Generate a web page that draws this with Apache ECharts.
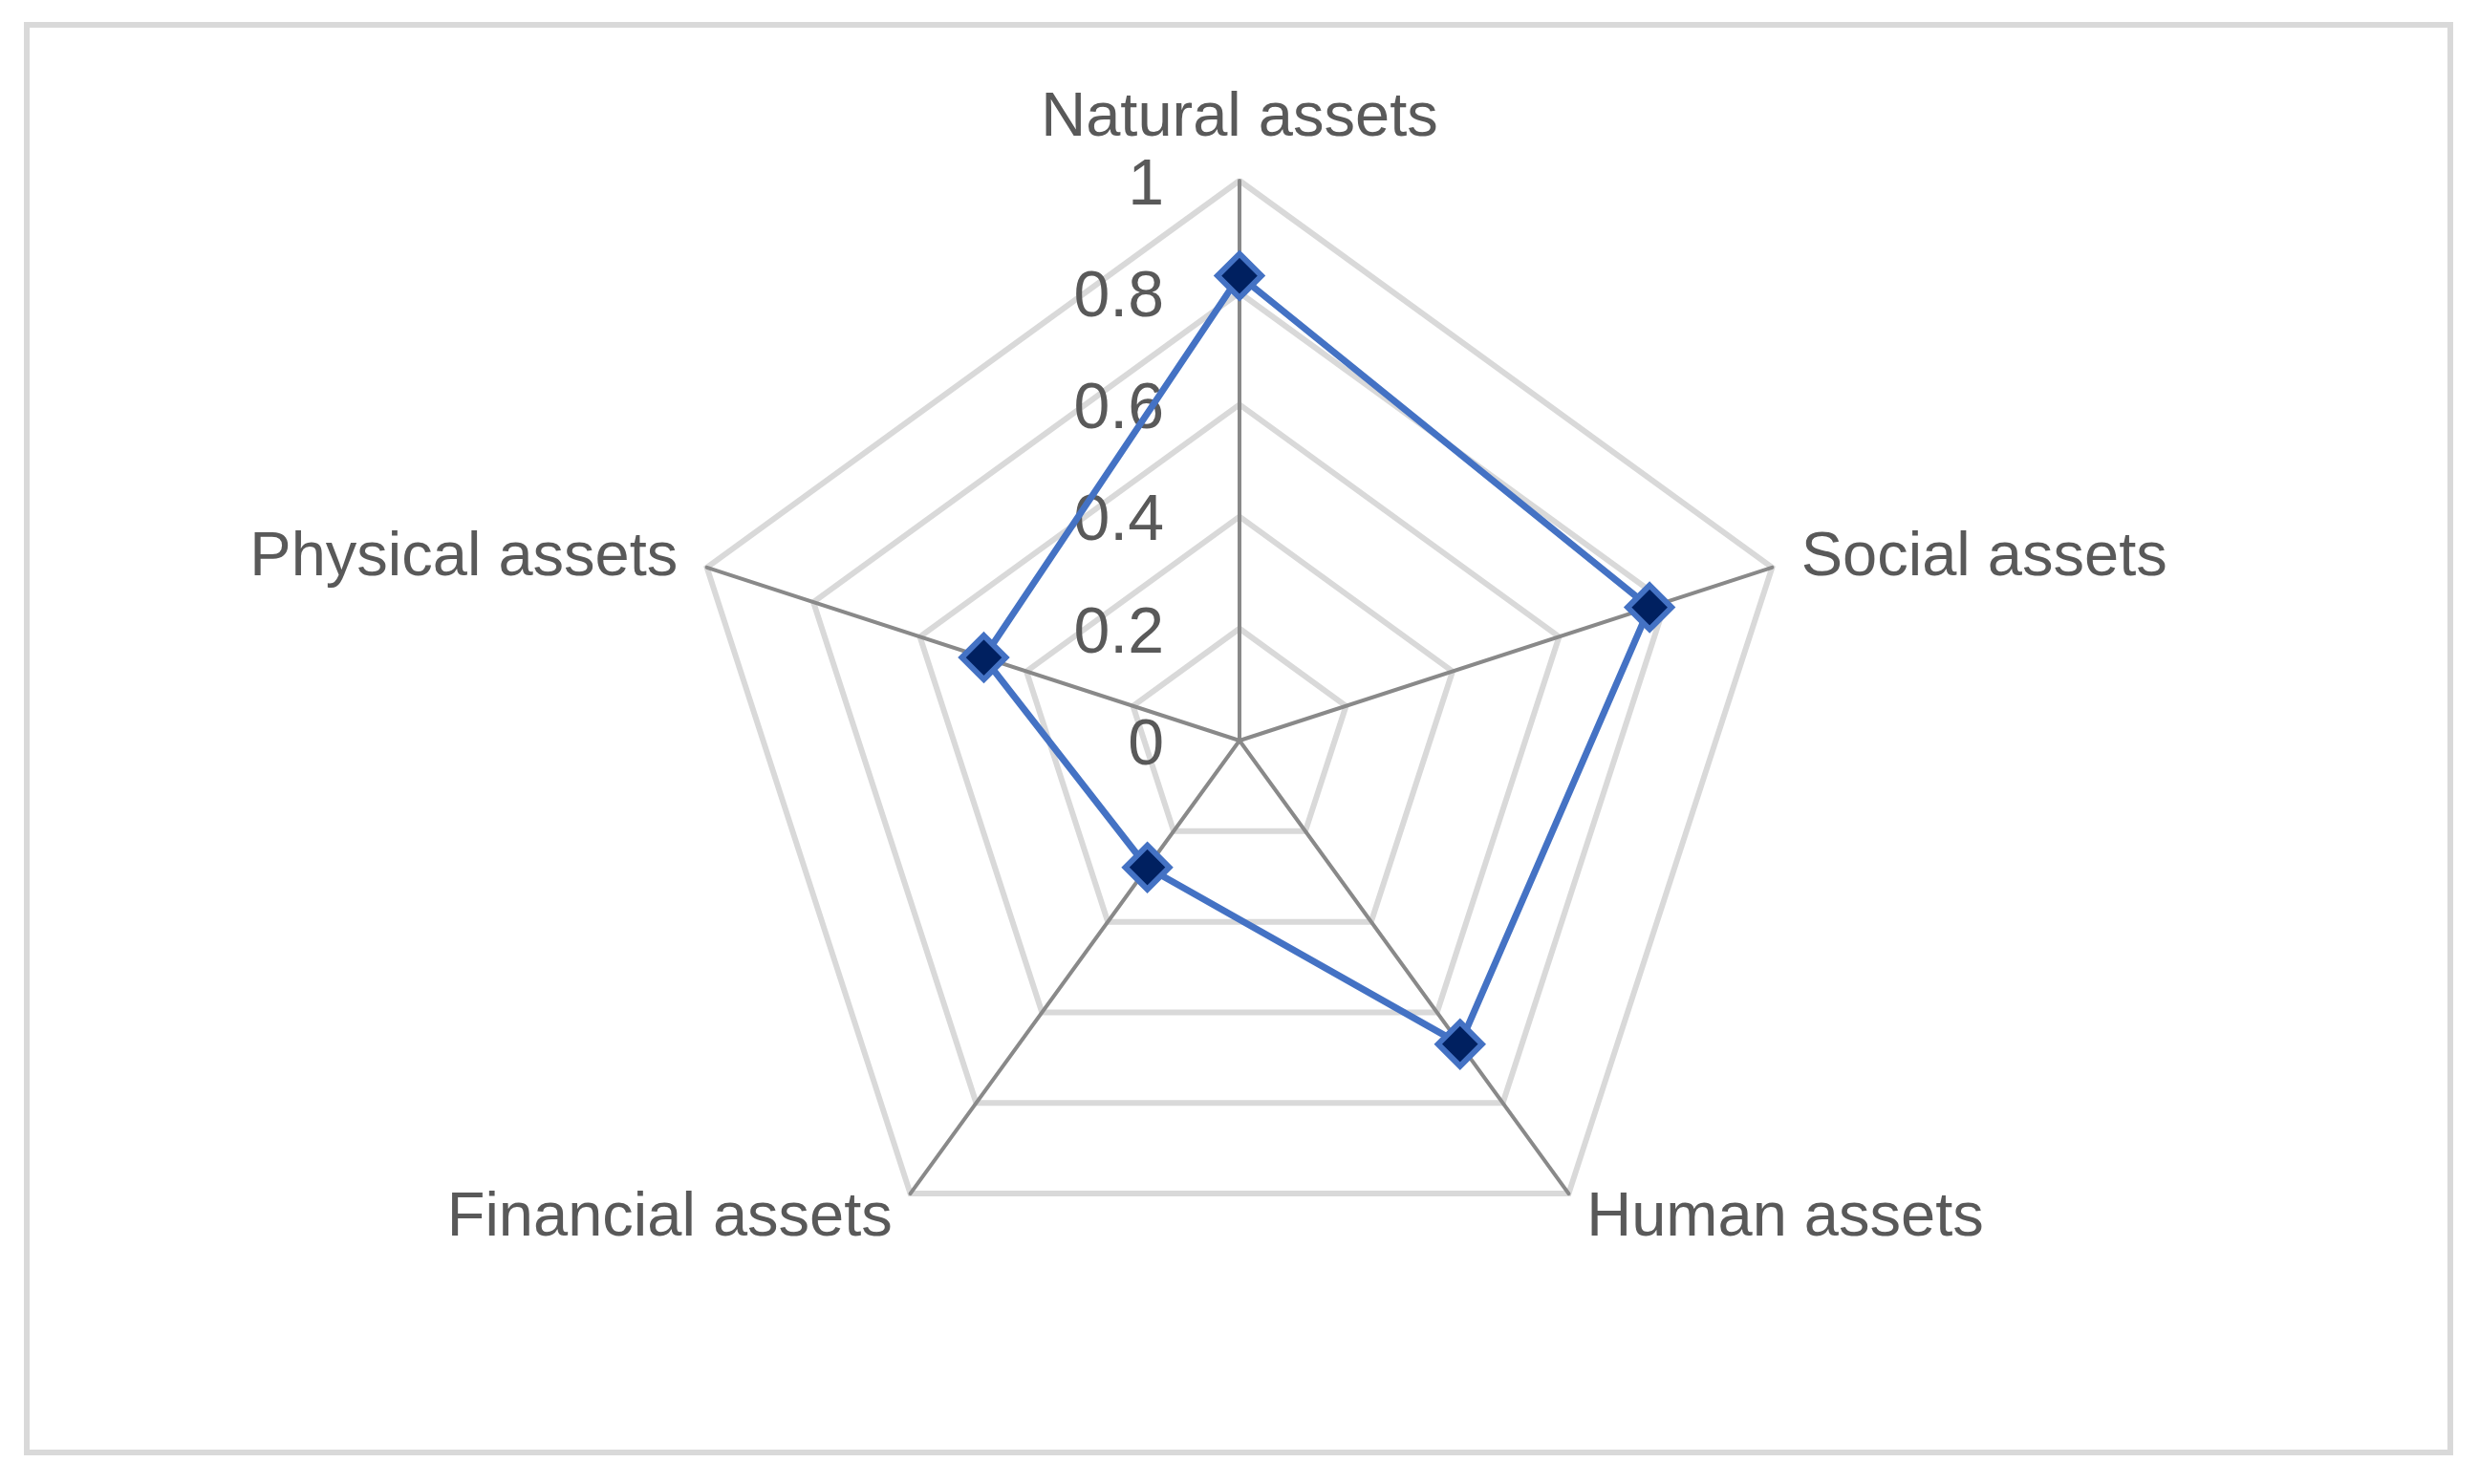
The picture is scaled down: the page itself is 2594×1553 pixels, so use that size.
<html>
<head>
    <meta charset="utf-8">
    <title>Assets radar</title>
    <script src="https://cdn.jsdelivr.net/npm/echarts@6/dist/echarts.min.js"></script>
</head>
<body style="margin:0">
    <div id="main" style="width:2594px;height:1553px"></div>
    <script type="text/javascript">
        // indicators listed counter-clockwise from the top (radar draws them that way)
        var categories = ['Natural assets', 'Physical assets', 'Financial assets', 'Human assets', 'Social assets'];
        var values = [0.83, 0.48, 0.28, 0.67, 0.77];
        var ticks = [0, 0.2, 0.4, 0.6, 0.8, 1];

        var cx = 1297, cy = 775, r = 586;
        var myChart = echarts.init(document.getElementById('main'));

        var option = {
            backgroundColor: '#fff',
            textStyle: { fontFamily: 'Liberation Sans' },
            graphic: [{
                type: 'rect',
                shape: { x: 28, y: 26, width: 2536, height: 1494 },
                style: { fill: 'none', stroke: '#d9d9d9', lineWidth: 6 },
                z: -1
            }],
            radar: {
                center: [cx, cy],
                radius: r,
                shape: 'polygon',
                splitNumber: ticks.length - 1,
                indicator: categories.map(function (c) { return { name: c, min: 0, max: 1 }; }),
                axisName: { color: '#595959', fontSize: 65, fontFamily: 'Liberation Sans' },
                nameGap: 32,
                axisLine: { lineStyle: { color: '#898989', width: 4 } },
                splitLine: { lineStyle: { color: '#d9d9d9', width: 6 } },
                splitArea: { show: false },
                axisTick: { show: false },
                axisLabel: { show: false }
            },
            // invisible value axis only to print the 0..1 tick labels along the top spoke
            // (nudged a few px down, as in the original)
            grid: { left: cx, width: 1, top: cy - r + 6, height: r },
            xAxis: { type: 'value', show: false },
            yAxis: {
                type: 'value', min: 0, max: 1, interval: 0.2,
                axisLine: { show: false }, axisTick: { show: false }, splitLine: { show: false },
                axisLabel: {
                    margin: 79, fontSize: 68, color: '#595959', fontFamily: 'Liberation Sans',
                    formatter: function (v) { return String(Math.round(v * 10) / 10); }
                }
            },
            series: [{
                type: 'radar',
                symbol: 'diamond',
                symbolSize: 46,
                lineStyle: { color: '#4472c4', width: 7 },
                itemStyle: { color: '#002060', borderColor: '#4472c4', borderWidth: 6 },
                data: [{ value: values }]
            }]
        };
        myChart.setOption(option);
    </script>
</body>
</html>
